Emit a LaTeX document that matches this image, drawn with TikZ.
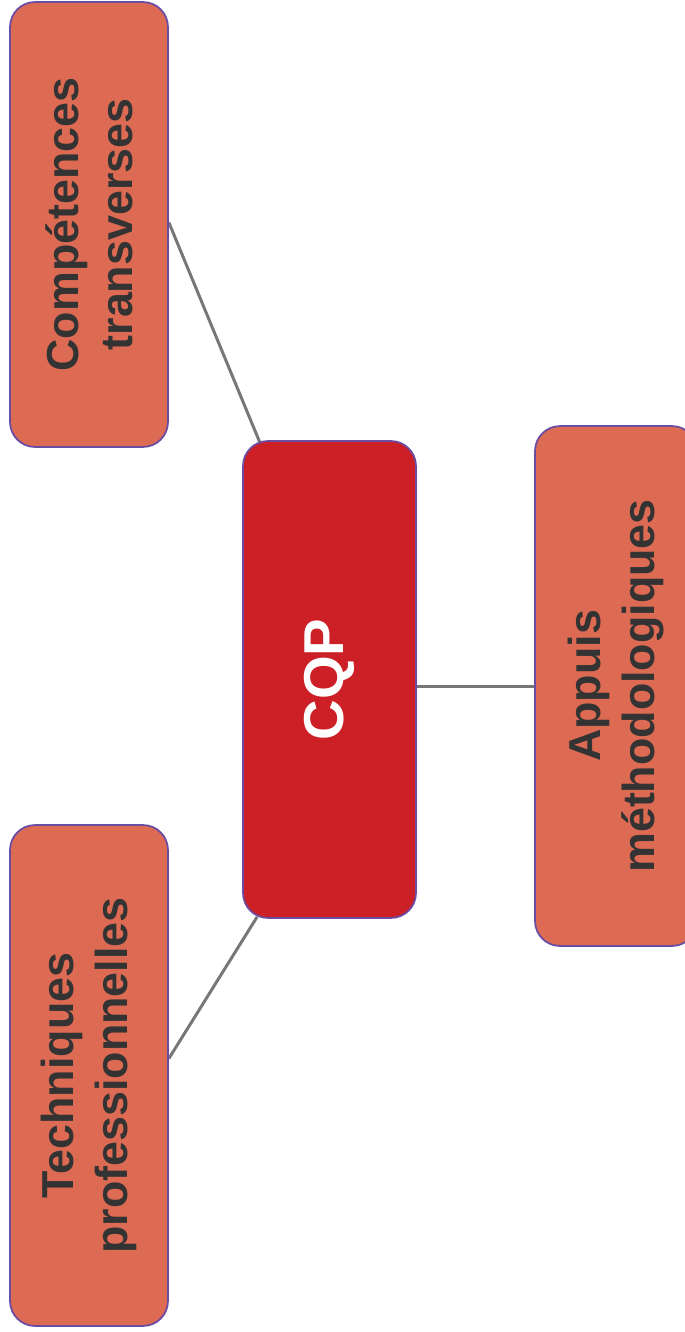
\documentclass[tikz,border=0pt]{standalone}
\usepackage{fontspec}
\setmainfont{Liberation Sans}
\usetikzlibrary{backgrounds}
\definecolor{branch}{HTML}{DD6A52}
\definecolor{hub}{HTML}{CC1F26}
\definecolor{rim}{HTML}{6A4CA3}
\definecolor{ink}{HTML}{333333}
\definecolor{wire}{HTML}{777777}

\begin{document}
\begin{tikzpicture}[x=0.02cm,y=-0.02cm,
  box/.style={draw=rim, line width=1pt, rounded corners=0.5cm, rotate=90, align=center, fill=branch, text=ink, font=\bfseries\fontsize{25.5}{30.5}\selectfont, minimum height=3.16cm},
  link/.style={draw=wire, line width=1.7pt}]
\useasboundingbox (0,0) rectangle (685,1332);
\node[box, minimum width=8.9cm] (ct) at (89,224.5) {Compétences\\transverses};
\node[box, minimum width=10.02cm] (tp) at (89,1075.5) {Techniques\\professionnelles};
\node[box, minimum width=10.4cm, minimum height=3.24cm] (am) at (616,686) {Appuis\\méthodologiques};
\node[box, fill=hub, text=white, minimum width=9.54cm, minimum height=3.46cm, font=\bfseries\fontsize{32}{36}\selectfont] (cqp) at (329.5,679.5) {CQP};
\begin{scope}[on background layer]
\draw[link] ([shift={(0,-2)}]ct.south) -- ([shift={(18,3)}]cqp.north east);
\draw[link] (am.north) -- (cqp.south |- am.north);
\draw[link] ([shift={(0,-17)}]tp.south) -- ([shift={(15,-2)}]cqp.north west);
\end{scope}
\end{tikzpicture}
\end{document}
